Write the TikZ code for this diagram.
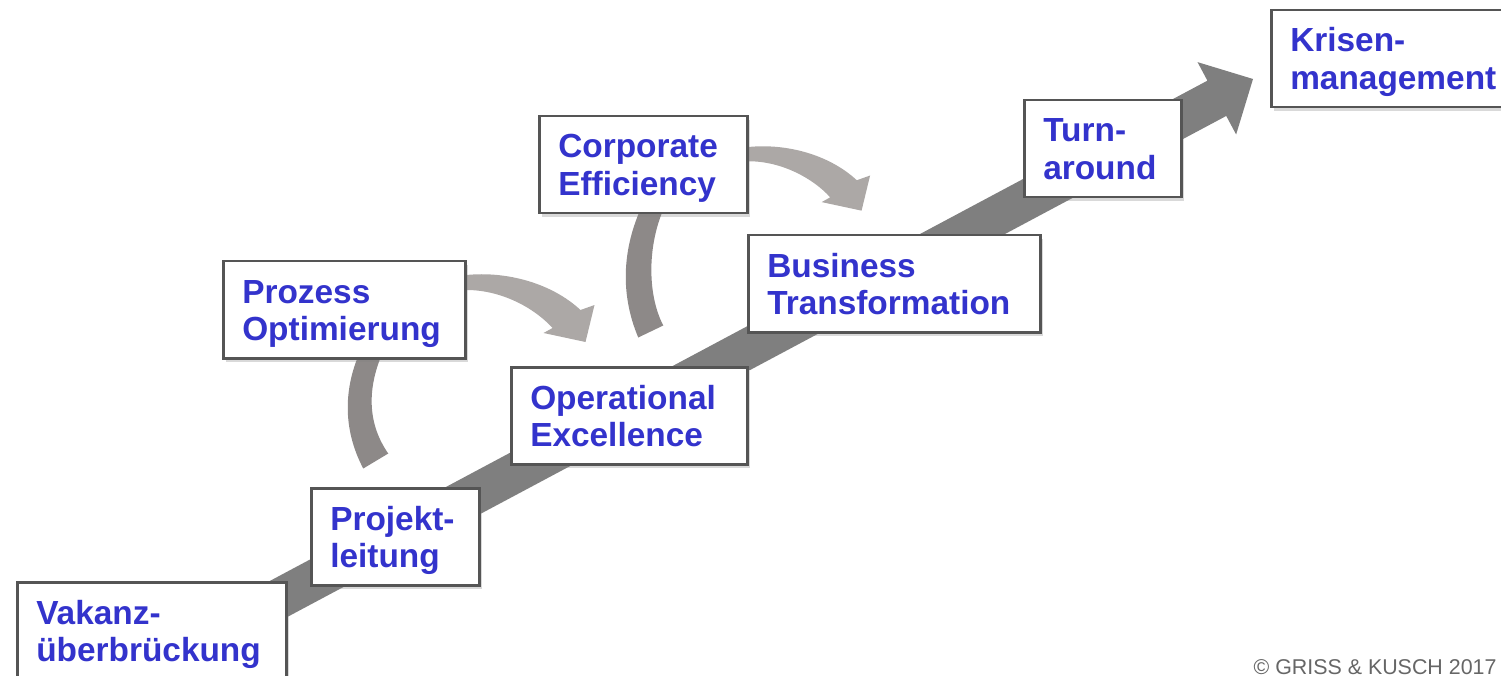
\documentclass[tikz,border=0pt]{standalone}
\usepackage{fontspec}
\setmainfont{Liberation Sans}
\usepackage{tikz}
\usetikzlibrary{shapes,arrows,positioning,calc,shadows,backgrounds}
\definecolor{stageblue}{RGB}{51,51,204}
\definecolor{boxgray}{RGB}{85,85,85}
\definecolor{arrowgray}{RGB}{127,127,127}
\definecolor{arrowlight}{RGB}{172,168,166}
\definecolor{arrowdark}{RGB}{141,137,136}
\tikzstyle{stage} = [rectangle, draw=boxgray, line width=2.5pt, fill=white, text=stageblue, align=left, font=\bfseries\fontsize{33.4pt}{37.5pt}\selectfont, anchor=north west, inner xsep=19pt, inner ysep=0pt, minimum height=97pt, text height=24pt, text depth=37.5pt, drop shadow={opacity=0.3, shadow xshift=3pt, shadow yshift=-4pt}]
\tikzstyle{mainarrow} = [fill=arrowgray]
\tikzstyle{backband} = [fill=arrowdark]
\tikzstyle{frontband} = [fill=arrowlight]
\tikzstyle{credit} = [anchor=base east, text=black!60, font=\fontsize{21.4pt}{24pt}\selectfont]
\tikzset{curvearrow/.pic={
  \fill[frontband] (-12,0) -- (0,0) .. controls (40,-4) and (85,8) .. (114,35) -- (128,30) -- (119,67) -- (77,58) -- (86,53) .. controls (68,33) and (35,15) .. (0,15) -- (-12,15) -- cycle;
}}

\begin{document}
\begin{tikzpicture}[x=1pt, y=-1pt]
\useasboundingbox (0,0) rectangle (1501,676);
\clip (0,0) rectangle (1501,676);

%main arrow=========================
\coordinate (tip) at (1253,79);
\coordinate (tail) at (18,738);
\coordinate (hb) at ($(tip)!41pt!(tail)$);
\fill[mainarrow] (tip) -- ($(hb)!41pt!90:(tail)$) -- ($(hb)!20pt!90:(tail)$) -- ($(tail)!20pt!-90:(tip)$) -- ($(tail)!20pt!90:(tip)$) -- ($(hb)!20pt!-90:(tail)$) -- ($(hb)!41pt!-90:(tail)$) -- cycle;

%stages=========================
\node[stage, text width=231pt] (vakanz) at (16,581) {Vakanz-\\überbrückung};
\node[stage, text width=130pt] (projekt) at (310,487) {Projekt-\\leitung};
\node[stage, text width=204pt] (prozess) at (222,260) {Prozess\\Optimierung};
\node[stage, text width=170pt] (corporate) at (538,115) {Corporate\\Efficiency};
\node[stage, text width=198pt] (opex) at (510,366) {Operational\\Excellence};
\node[stage, text width=254pt] (business) at (747,234) {Business\\Transformation};
\node[stage, text width=119pt] (turn) at (1023,99) {Turn-\\around};
\node[stage, text width=212pt] (krisen) at (1270,9) {Krisen-\\management};

\node[credit] (credit) at (1500,674) {© GRISS \& KUSCH 2017};

% bands
\begin{scope}[on background layer]
\begin{scope}[shift={(prozess.south)}]
\fill[backband] (19,109) .. controls (-2,69) and (0,29) .. (15,-6) -- (38,-6) .. controls (23,29) and (23,64) .. (44,94) -- cycle;
\end{scope}
\begin{scope}[shift={(corporate.south)}]
\fill[backband] (-5,123) .. controls (-24,78) and (-20,33) .. (-2,-7) -- (21,-7) .. controls (5,28) and (3,78) .. (20,111) -- cycle;
\end{scope}
\pic at ($(prozess.north east)+(0,15)$) {curvearrow};
\pic[scale=0.95] at ($(corporate.north east)+(0,32)$) {curvearrow};
\end{scope}

\end{tikzpicture}
\end{document}
